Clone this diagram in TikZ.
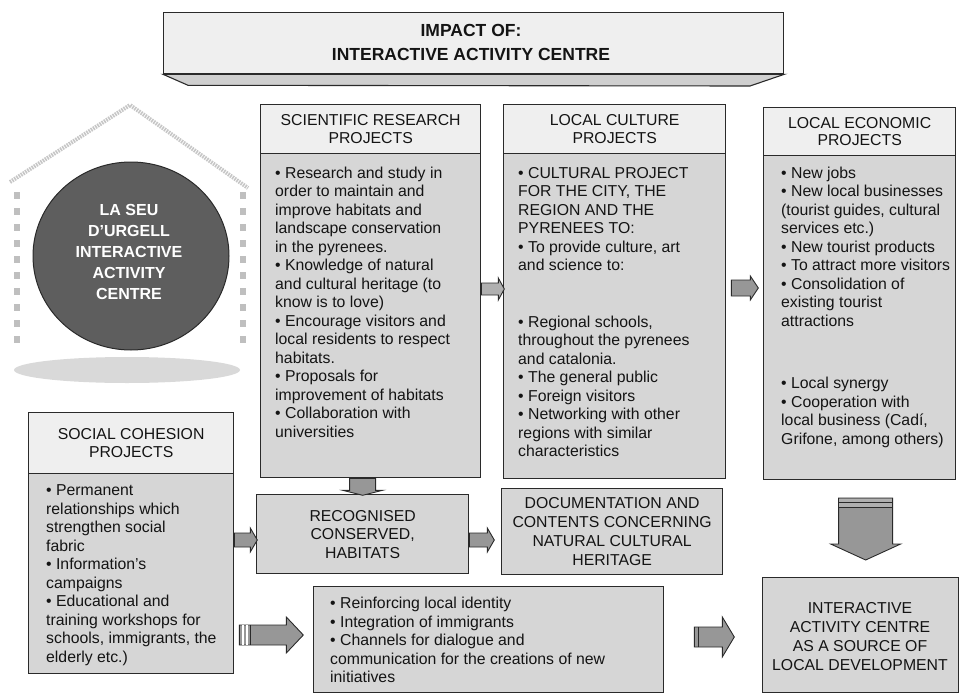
\documentclass[tikz,border=0pt]{standalone}
\usepackage{fontspec}
\setmainfont{Liberation Sans}
\usetikzlibrary{calc,shapes.geometric}
\definecolor{bodyfill}{HTML}{D6D6D6}
\definecolor{headfill}{HTML}{EFEFEF}
\definecolor{edge}{HTML}{2A2A2A}
\definecolor{ink}{HTML}{141414}
\definecolor{arrowfill}{HTML}{979797}
\definecolor{arrowlight}{HTML}{B0B0B0}
\definecolor{circfill}{HTML}{5E5E5E}
\definecolor{stripfill}{HTML}{CFCFCF}
\newcommand\myBody{\fontsize{15.8}{18.5}\selectfont}
\newcommand\myHead{\fontsize{15.8}{17.5}\selectfont}
% horizontal block arrow: #1 start, #2 length, #3 shaft half, #4 head half, #5 head length, #6 fill
\newcommand\harrow[6]{\draw[blockarrow, fill=#6, shift={(#1)}] (0,-#3) -- ({#2-#5},-#3) -- ({#2-#5},-#4) -- (#2,0) -- ({#2-#5},#4) -- ({#2-#5},#3) -- (0,#3) -- cycle;}
% vertical (downward) block arrow
\newcommand\varrow[6]{\draw[blockarrow, fill=#6, shift={(#1)}] (-#3,0) -- (-#3,{#2-#5}) -- (-#4,{#2-#5}) -- (0,#2) -- (#4,{#2-#5}) -- (#3,{#2-#5}) -- (#3,0) -- cycle;}
\begin{document}
\begin{tikzpicture}[x=1pt,y=-1pt,
  box/.style={draw=edge, line width=1.3pt, fill=bodyfill, rectangle, inner sep=0pt, anchor=north west},
  headbox/.style={box, fill=headfill, align=center, font=\myHead, text=ink},
  bodytext/.style={anchor=west, align=left, inner sep=0pt, font=\myBody, text=ink},
  ctext/.style={align=center, inner sep=0pt, font=\myBody, text=ink},
  blockarrow/.style={draw=edge, line width=0.9pt, line join=miter},
  roof/.style={line width=4pt, draw=gray!45, dash pattern=on 1.6pt off 1pt},
]
\useasboundingbox (0,0) rectangle (960,693);

% ---------- title ----------
\node[box, fill=headfill, minimum width=620pt, minimum height=61pt] (title) at (163,12) {};
\draw[edge, line width=1.1pt, fill=stripfill] (title.south west) -- ++(25,11) -- (750,86) -- (title.south east) -- cycle;
\node[align=center, font=\bfseries\fontsize{17.5}{24}\selectfont, text=ink] (titletext) at (471,42) {IMPACT OF:\\INTERACTIVE ACTIVITY CENTRE};

% ---------- house with circle ----------
\draw[roof] (10,182) -- (130,105) -- (248,188);
\foreach \yy in {192,208,...,338} {
  \fill[gray!50] (14,\yy) rectangle +(6,7);
  \fill[gray!50] (240,\yy) rectangle +(6,7);
}
\fill[gray!30] (127,370) ellipse [x radius=113pt, y radius=13pt];
\node[ellipse, minimum width=196pt, minimum height=188pt, fill=circfill, draw=edge, line width=1pt, inner sep=0pt] (iac) at (131,256) {};
\node[align=center, inner sep=0pt, text=white, font=\bfseries\fontsize{16}{21}\selectfont] (iactext) at (129,252) {LA SEU\\D'URGELL\\INTERACTIVE\\ACTIVITY\\CENTRE};

% ---------- scientific research ----------
\node[box, minimum width=220pt, minimum height=373pt] (sci) at (260,104) {};
\node[headbox, minimum width=220pt, minimum height=49pt] (scih) at (260,104) {SCIENTIFIC RESEARCH\\PROJECTS};
\node[bodytext] (scit) at (275,302) {• Research and study in\\order to maintain and\\improve habitats and\\landscape conservation\\in the pyrenees.\\• Knowledge of natural\\and cultural heritage (to\\know is to love)\\• Encourage visitors and\\local residents to respect\\habitats.\\• Proposals for\\improvement of habitats\\• Collaboration with\\universities};

% ---------- local culture ----------
\node[box, minimum width=222pt, minimum height=374pt] (cult) at (503,104) {};
\node[headbox, minimum width=222pt, minimum height=49pt] (culth) at (503,104) {LOCAL CULTURE\\PROJECTS};
\node[bodytext] (cultt) at (518,312) {• CULTURAL PROJECT\\FOR THE CITY, THE\\REGION AND THE\\PYRENEES TO:\\• To provide culture, art\\and science to:\\[38pt]• Regional schools,\\throughout the pyrenees\\and catalonia.\\• The general public\\• Foreign visitors\\• Networking with other\\regions with similar\\characteristics};

% ---------- local economic ----------
\node[box, minimum width=192pt, minimum height=372pt] (econ) at (763,107) {};
\node[headbox, minimum width=192pt, minimum height=48pt] (econh) at (763,107) {LOCAL ECONOMIC\\PROJECTS};
\node[bodytext] (econt) at (781,307) {• New jobs\\• New local businesses\\(tourist guides, cultural\\services etc.)\\• New tourist products\\• To attract more visitors\\• Consolidation of\\existing tourist\\attractions\\[44pt]• Local synergy\\• Cooperation with\\local business (Cadí,\\Grifone, among others)};

% ---------- social cohesion ----------
\node[box, minimum width=205pt, minimum height=261pt] (soc) at (28,412) {};
\node[headbox, minimum width=205pt, minimum height=61pt] (soch) at (28,412) {SOCIAL COHESION\\PROJECTS};
\node[bodytext] (soct) at (46,575) {• Permanent\\relationships which\\strengthen social\\fabric\\• Information's\\campaigns\\• Educational and\\training workshops for\\schools, immigrants, the\\elderly etc.)};

% ---------- recognised / documentation ----------
\node[box, minimum width=212pt, minimum height=79pt] (rec) at (256,494) {};
\node[ctext] (rect) at (rec.center) {RECOGNISED\\CONSERVED,\\HABITATS};
\node[box, minimum width=221pt, minimum height=86pt] (doc) at (501,488) {};
\node[ctext, font=\fontsize{15.8}{19}\selectfont] (doct) at (doc.center) {DOCUMENTATION AND\\CONTENTS CONCERNING\\NATURAL CULTURAL\\HERITAGE};

% ---------- bottom boxes ----------
\node[box, minimum width=350pt, minimum height=106pt] (mid) at (313,586) {};
\node[bodytext] (midt) at (330,640) {• Reinforcing local identity\\• Integration of immigrants\\• Channels for dialogue and\\communication for the creations of new\\initiatives};
\node[box, minimum width=196pt, minimum height=115pt] (final) at (762,577) {};
\node[ctext, font=\fontsize{15.8}{19}\selectfont] (finalt) at (860,637) {INTERACTIVE\\ACTIVITY CENTRE\\AS A SOURCE OF\\LOCAL DEVELOPMENT};

% ---------- arrows ----------
\harrow{sci.east |- 0,289}{23}{6}{11}{6}{arrowlight}
\coordinate (a2) at ($(cult.east |- 0,288)+(5,0)$);
\harrow{a2}{27}{8}{12}{8}{arrowfill}
\coordinate (a3) at (rec.north |- sci.south);
\varrow{a3}{17}{13}{20}{5}{arrowfill}
\harrow{soc.east |- 0,540}{23}{7}{12}{7}{arrowfill}
\harrow{rec.east |- 0,540}{25}{7}{12}{7}{arrowfill}
\coordinate (a6) at ($(soc.east |- 0,635)+(5,0)$);
\harrow{a6}{64}{10}{18}{17}{arrowfill}
\fill[white] ($(a6)+(3,-10)$) rectangle ($(a6)+(4.5,10)$);
\fill[white] ($(a6)+(7,-10)$) rectangle ($(a6)+(8.5,10)$);
\draw[edge, line width=0.6pt] ($(a6)+(11,-10)$) -- ($(a6)+(11,10)$);
\coordinate (a7) at ($(mid.east |- 0,637)+(30,0)$);
\harrow{a7}{40}{10}{20}{12}{arrowfill}
\draw[edge, line width=0.6pt] ($(a7)+(4,-10)$) -- ($(a7)+(4,10)$);
\coordinate (a8) at ($(final.north |- 0,498)+(5,0)$);
\varrow{a8}{62}{27}{35}{16}{arrowfill}
\fill[arrowlight] ($(a8)+(-26.5,0.5)$) rectangle ($(a8)+(26.5,9)$);
\draw[edge, line width=0.7pt] ($(a8)+(-27,4)$) -- ($(a8)+(27,4)$);
\draw[edge, line width=0.7pt] ($(a8)+(-27,9.5)$) -- ($(a8)+(27,9.5)$);
\end{tikzpicture}
\end{document}
